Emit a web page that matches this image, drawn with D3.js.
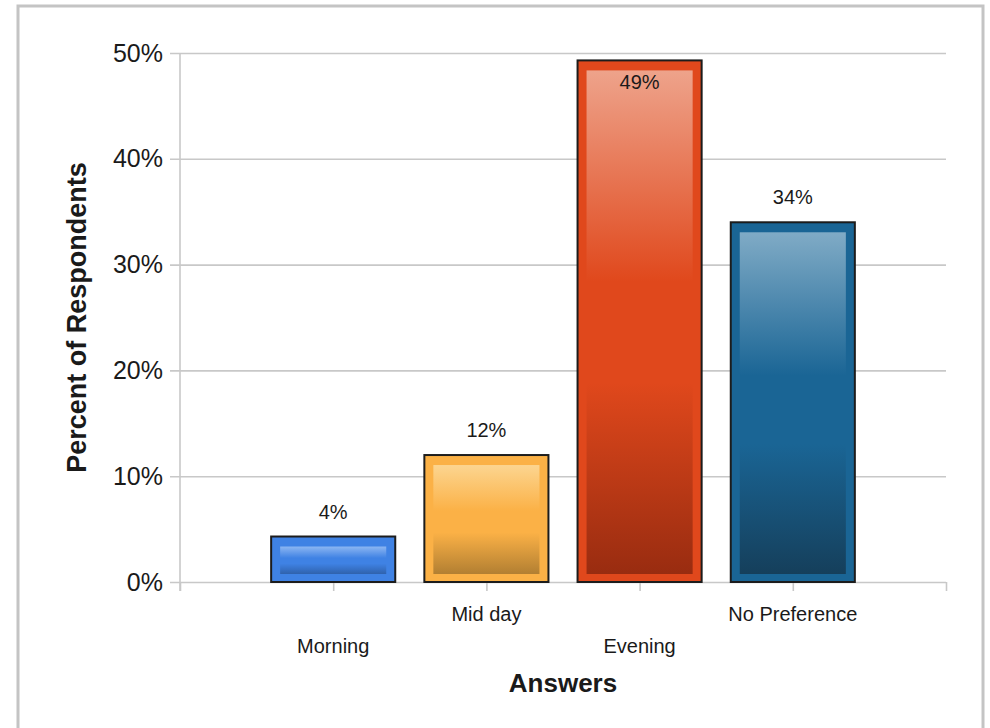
<!DOCTYPE html>
<html>
<head>
<meta charset="utf-8">
<script src="https://cdn.jsdelivr.net/npm/d3@7"></script>
<style>
  body { margin: 0; background: #fff; }
  text { font-family: "Liberation Sans", Arial, sans-serif; fill: #1a1a1a; }
</style>
</head>
<body>
<div id="chart"></div>
<script>
// Data
var answers = ["Morning", "Mid day", "Evening", "No Preference"];
var percents = [4.3, 12.0, 49.3, 34.0];
var yTickValues = [0, 10, 20, 30, 40, 50];
// base, light top, dark bottom
var baseColors = ["#3f82e4", "#fbb146", "#e0481c", "#1a6595"];
var lightColors = ["#8cb6f2", "#fcd590", "#eea38b", "#80abc6"];
var darkColors = ["#2f62ad", "#b27f32", "#992c10", "#153f5b"];

var W = 990, H = 728;
var plot = {left: 180, right: 946, top: 53, bottom: 582};

var svg = d3.select("#chart").append("svg")
    .attr("width", W)
    .attr("height", H);

// outer frame
svg.append("rect")
    .attr("x", 18).attr("y", 6)
    .attr("width", 965).attr("height", 760)
    .attr("fill", "#fff")
    .attr("stroke", "#c4c4c4")
    .attr("stroke-width", 3);

var x = d3.scaleLinear().domain([0, answers.length + 1]).range([plot.left, plot.right]);
var y = d3.scaleLinear().domain([0, 50]).range([plot.bottom, plot.top]);
var step = x(1) - x(0);
var barW = step * 0.81;

// gradients
var defs = svg.append("defs");
answers.forEach(function(a, i) {
    var g = defs.append("linearGradient")
        .attr("id", "grad" + i)
        .attr("x1", 0).attr("y1", 0).attr("x2", 0).attr("y2", 1);
    g.append("stop").attr("offset", "0%").attr("stop-color", lightColors[i]);
    g.append("stop").attr("offset", "42%").attr("stop-color", baseColors[i]);
    g.append("stop").attr("offset", "62%").attr("stop-color", baseColors[i]);
    g.append("stop").attr("offset", "100%").attr("stop-color", darkColors[i]);
});

// y gridlines + labels
var yAxis = d3.axisLeft(y)
    .tickValues(yTickValues)
    .tickSize(-(plot.right - plot.left + 10))
    .tickPadding(7)
    .tickFormat(function(d) { return d + "%"; });

var gy = svg.append("g")
    .attr("transform", "translate(" + (plot.left - 10) + ",0)")
    .call(yAxis);
gy.select(".domain").remove();
gy.selectAll(".tick line").attr("stroke", "#c8c8c8").attr("stroke-width", 1.6);
gy.selectAll(".tick text")
    .style("font-size", "25px")
    .attr("fill", "#1a1a1a");

// x ticks
var xAxis = d3.axisBottom(x)
    .tickValues(d3.range(0, answers.length + 2))
    .tickSize(9)
    .tickFormat("");
var gx = svg.append("g")
    .attr("transform", "translate(0," + plot.bottom + ")")
    .call(xAxis);
gx.select(".domain").remove();
gx.selectAll(".tick line").attr("stroke", "#c8c8c8").attr("stroke-width", 1.6);

// vertical axis line
svg.append("line")
    .attr("x1", plot.left).attr("x2", plot.left)
    .attr("y1", plot.top).attr("y2", plot.bottom + 9)
    .attr("stroke", "#c8c8c8")
    .attr("stroke-width", 1.6);

// bars
var bars = svg.append("g").selectAll("g")
    .data(percents)
    .enter()
    .append("g");

bars.append("rect")
    .attr("x", function(d, i) { return x(i + 1) - barW / 2; })
    .attr("y", function(d) { return y(d); })
    .attr("width", barW)
    .attr("height", function(d) { return y(0) - y(d); })
    .attr("fill", function(d, i) { return baseColors[i]; })
    .attr("stroke", "#1c1c1c")
    .attr("stroke-width", 2);

bars.append("rect")
    .attr("x", function(d, i) { return x(i + 1) - barW / 2 + 9; })
    .attr("y", function(d) { return y(d) + 10; })
    .attr("width", barW - 18)
    .attr("height", function(d) { return Math.max(0, y(0) - y(d) - 18); })
    .attr("fill", function(d, i) { return "url(#grad" + i + ")"; });

// value labels
bars.append("text")
    .attr("x", function(d, i) { return x(i + 1); })
    .attr("y", function(d) {
        var ly = y(d) - 25;
        return ly < plot.top + 10 ? y(d) + 22 : ly;
    })
    .attr("text-anchor", "middle")
    .attr("dy", "0.35em")
    .style("font-size", "20px")
    .text(function(d) { return Math.round(d) + "%"; });

// category labels, staggered
svg.append("g").selectAll("text")
    .data(answers)
    .enter()
    .append("text")
    .attr("x", function(d, i) { return x(i + 1); })
    .attr("y", function(d, i) { return i % 2 === 0 ? 646 : 614; })
    .attr("text-anchor", "middle")
    .attr("dy", "0.35em")
    .style("font-size", "20px")
    .text(function(d) { return d; });

// axis titles
svg.append("text")
    .attr("x", (plot.left + plot.right) / 2)
    .attr("y", 683)
    .attr("dy", "0.35em")
    .attr("text-anchor", "middle")
    .style("font-size", "26px")
    .style("font-weight", "bold")
    .text("Answers");

svg.append("text")
    .attr("transform", "translate(77," + ((plot.top + plot.bottom) / 2) + ") rotate(-90)")
    .attr("dy", "0.35em")
    .attr("text-anchor", "middle")
    .style("font-size", "27px")
    .style("font-weight", "bold")
    .text("Percent of Respondents");
</script>
</body>
</html>
